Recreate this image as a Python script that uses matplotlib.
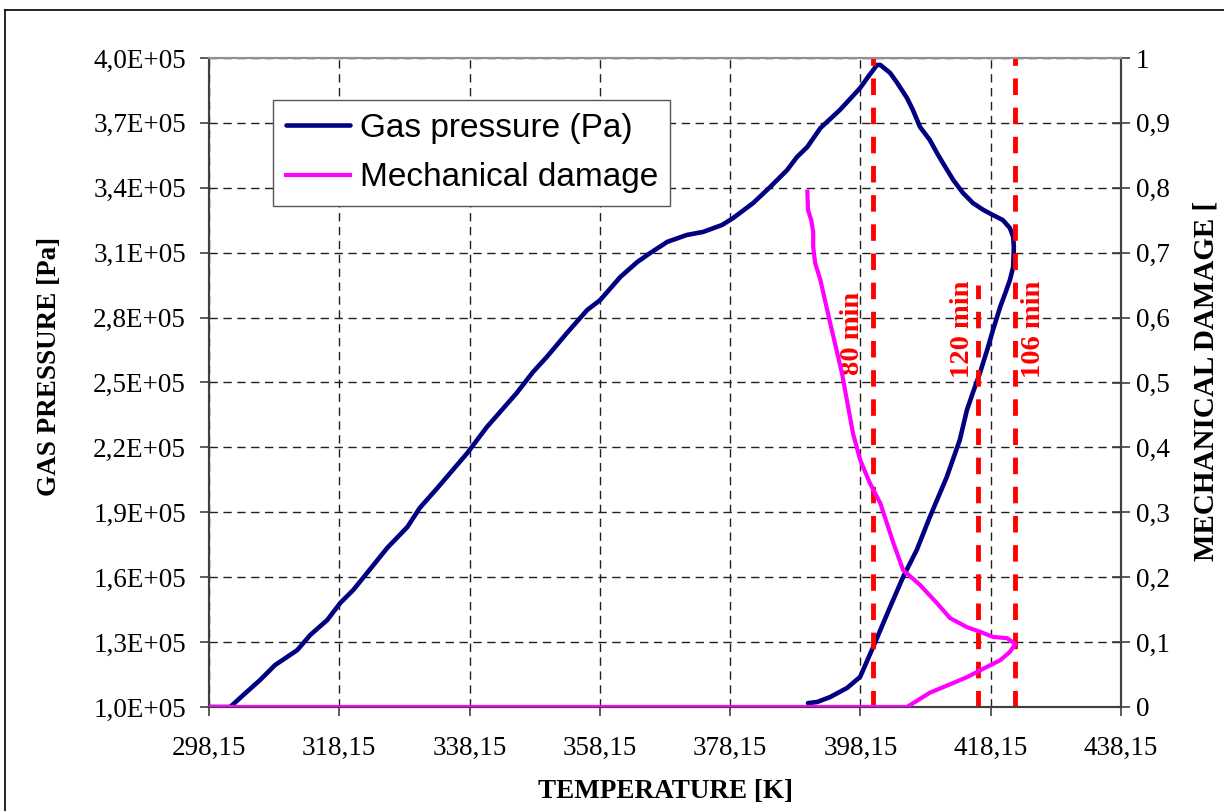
import matplotlib
matplotlib.use('Agg')
import matplotlib.pyplot as plt
from matplotlib.ticker import FuncFormatter, FixedLocator
from matplotlib.lines import Line2D

# Gas pressure over temperature (heating up to the peak, then cooling branch)
temp_gas = [298.15, 301.4, 303.4, 306.0, 308.3, 311.7, 313.7, 316.3, 318.3, 320.3,
            322.4, 325.5, 328.6, 330.5, 333.2, 337.8, 340.8, 345.4, 347.9, 350.0,
            353.1, 356.2, 358.2, 361.3, 363.9, 365.9, 368.5, 371.5, 374.0, 376.9,
            378.6, 381.7, 384.3, 386.9, 388.4, 390.0, 392.0, 395.0, 398.1, 399.3,
            400.7, 401.2, 402.7, 403.8, 405.3, 406.2, 407.3, 408.8, 409.9, 410.8,
            412.4, 413.9, 415.4, 417.0, 418.5, 420.0, 421.1, 421.6, 421.7, 421.6,
            421.1, 420.4, 419.6, 418.5, 417.6, 416.5, 415.4, 414.5, 413.4, 411.4,
            408.8, 406.8, 404.7, 402.7, 400.1, 398.1, 396.1, 393.5, 391.5, 390.1]
pressure = [1.0, 1.0, 1.055, 1.125, 1.194, 1.263, 1.333, 1.402, 1.481, 1.541,
            1.619, 1.735, 1.832, 1.920, 2.012, 2.174, 2.294, 2.452, 2.549, 2.618,
            2.729, 2.835, 2.881, 2.988, 3.057, 3.099, 3.150, 3.182, 3.196, 3.228,
            3.260, 3.330, 3.404, 3.482, 3.542, 3.589, 3.676, 3.760, 3.861, 3.912,
            3.968, 3.968, 3.931, 3.885, 3.815, 3.760, 3.681, 3.621, 3.561, 3.515,
            3.436, 3.376, 3.330, 3.298, 3.274, 3.251, 3.214, 3.173, 3.126, 3.034,
            2.974, 2.914, 2.849, 2.743, 2.650, 2.544, 2.452, 2.373, 2.234, 2.063,
            1.878, 1.726, 1.601, 1.462, 1.277, 1.139, 1.088, 1.046, 1.023, 1.018]
pressure = [p * 1e5 for p in pressure]

# Mechanical damage over temperature
temp_dmg = [298.15, 405.3, 408.8, 412.4, 414.5, 417.6, 419.6, 421.1, 421.9, 420.7,
            418.5, 416.5, 414.5, 411.9, 409.9, 407.3, 404.7, 403.2, 401.2, 399.6,
            398.1, 397.0, 395.3, 393.5, 392.0, 391.2, 390.9, 390.9, 390.6, 390.1, 390.0]
damage = [0, 0, 0.022, 0.037, 0.046, 0.062, 0.072, 0.085, 0.097, 0.106,
          0.108, 0.116, 0.123, 0.137, 0.160, 0.188, 0.211, 0.253, 0.314, 0.345,
          0.381, 0.422, 0.515, 0.592, 0.658, 0.684, 0.709, 0.732, 0.750, 0.766, 0.794]

# Time markers
event_temp = [400.1, 416.2, 421.9]
event_top = [1.0, 0.65, 1.0]
event_label = ['80 min', '120 min', '106 min']
label_temp = [397.0, 413.85, 424.65]
label_dmg = [0.575, 0.582, 0.582]

x_ticks = [298.15 + 20 * i for i in range(8)]
p_ticks = [1.0e5 + 0.3e5 * i for i in range(11)]
d_ticks = [0.1 * i for i in range(11)]

SERIF = 'Liberation Serif'
SANS = 'Liberation Sans'

fig = plt.figure(figsize=(12.24, 8.11), dpi=100)
ax = fig.add_axes([209 / 1224, 1 - 707 / 811, 912 / 1224, 649 / 811])
ax2 = ax.twinx()

ax.set_xlim(298.15, 438.15)
ax.set_ylim(1.0e5, 4.0e5)
ax2.set_ylim(0, 1)

ax.xaxis.set_major_locator(FixedLocator(x_ticks))
ax.yaxis.set_major_locator(FixedLocator(p_ticks))
ax2.yaxis.set_major_locator(FixedLocator(d_ticks))
ax.xaxis.set_major_formatter(FuncFormatter(lambda v, _: f'{v:.2f}'.replace('.', ',')))
ax.yaxis.set_major_formatter(FuncFormatter(lambda v, _: f'{v / 1e5:.1f}'.replace('.', ',') + 'E+05'))
ax2.yaxis.set_major_formatter(FuncFormatter(lambda v, _: f'{v:.1f}'.rstrip('0').rstrip('.').replace('.', ',')))

ax.grid(True, linestyle=(0, (6, 4)), color='#202020', linewidth=1.0)

for a in (ax, ax2):
    for s in a.spines.values():
        s.set_color('#404040')
        s.set_linewidth(1.5)
    a.spines['top'].set_color('#909090')

ax.tick_params(axis='both', direction='out', length=6.5, width=1.2, color='#404040',
               labelsize=19.5, pad=10)
ax.tick_params(axis='x', pad=14)
ax2.tick_params(axis='y', direction='inout', length=13, width=1.2, color='#404040',
                labelsize=19.5, pad=4)
for lab in ax.get_xticklabels() + ax.get_yticklabels() + ax2.get_yticklabels():
    lab.set_fontfamily(SERIF)

ax.plot(temp_gas, pressure, color='#000080', linewidth=3.3, solid_capstyle='round',
        solid_joinstyle='round', label='Gas pressure (Pa)')
dmg_line, = ax2.plot(temp_dmg, damage, color='#FF00FF', linewidth=3.0, zorder=4,
                     solid_joinstyle='round', label='Mechanical damage')

for t, top, lab, lt, ld in zip(event_temp, event_top, event_label, label_temp, label_dmg):
    ax2.plot([t, t], [0, top], color='#FF0000', linewidth=3.5,
             linestyle=(0, (3.4, 2.6)), zorder=2, clip_on=False)
    ax2.text(lt, ld, lab, color='#FF0000', fontsize=20.5, fontweight='bold',
             fontfamily=SERIF, rotation=90, ha='center', va='center')

handles = [ax.get_lines()[0], dmg_line]
leg = ax2.legend(handles, [h.get_label() for h in handles], loc='upper left',
                 bbox_to_anchor=(0.070, 0.935), borderaxespad=0, fancybox=False,
                 framealpha=1, edgecolor='#555555', prop={'family': SANS, 'size': 24},
                 handlelength=1.92, handletextpad=0.3, labelspacing=0.55, borderpad=0.38)
leg.get_frame().set_linewidth(1.0)

fig.text(666 / 1224, 1 - 791 / 811, 'TEMPERATURE [K]', fontsize=19.5, fontweight='bold',
         fontfamily=SERIF, ha='center', va='center')
fig.text(50 / 1224, 1 - 366 / 811, 'GAS PRESSURE [Pa]', fontsize=19.5, fontweight='bold',
         fontfamily=SERIF, ha='center', va='center', rotation=90)
fig.text(1206 / 1224, 1 - 381 / 811, 'MECHANICAL DAMAGE [', fontsize=21, fontweight='bold',
         fontfamily=SERIF, ha='center', va='center', rotation=90)

# outer chart frame
fig.add_artist(Line2D([5 / 1224, 5 / 1224], [0, 1 - 10 / 811], transform=fig.transFigure,
                      color='black', linewidth=1.2))
fig.add_artist(Line2D([5 / 1224, 1], [1 - 10 / 811, 1 - 10 / 811], transform=fig.transFigure,
                      color='black', linewidth=1.2))

fig.savefig('out.png', dpi=100)
